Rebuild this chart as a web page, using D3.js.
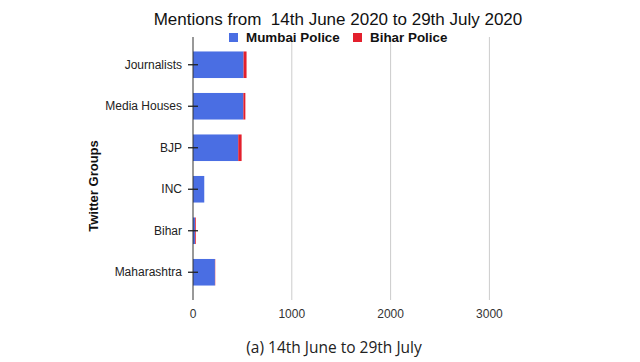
<!DOCTYPE html>
<html>
<head>
<meta charset="utf-8">
<script src="https://cdn.jsdelivr.net/npm/d3@7"></script>
<style>
  body { margin: 0; background: #fff; }
  text { font-family: Arial, "Liberation Sans", sans-serif; }
</style>
</head>
<body>
<div class="chart"></div>
<script>
var groups = ['Journalists', 'Media Houses', 'BJP', 'INC', 'Bihar', 'Maharashtra'];
var mumbai = [512, 510, 458, 114, 20, 222];
var bihar = [30, 20, 34, 0, 8, 3];
var ticks = [0, 1000, 2000, 3000];
var seriesNames = ['Mumbai Police', 'Bihar Police'];
var colors = ['#4a6ee3', '#e3202d'];

var width = 640, height = 362;
var margin = {top: 38, left: 193, right: 100, bottom: 62};

var svg = d3.select('div.chart').append('svg')
    .attr('width', width)
    .attr('height', height);

// 1000 units is about 99px
var xScale = d3.scaleLinear()
    .domain([0, 3500])
    .range([margin.left, margin.left + 3500 * 0.0988]);

var yScale = d3.scaleBand()
    .domain(groups)
    .range([44, 293])
    .paddingInner(0.36)
    .paddingOuter(0.18);

// gridlines
svg.append('g')
  .selectAll('line')
  .data(ticks.slice(1))
  .enter().append('line')
    .attr('x1', function(d) { return xScale(d); })
    .attr('x2', function(d) { return xScale(d); })
    .attr('y1', 37)
    .attr('y2', 300)
    .attr('stroke', '#cccccc')
    .attr('stroke-width', 1);

// x tick labels
svg.append('g')
  .selectAll('text')
  .data(ticks)
  .enter().append('text')
    .attr('x', function(d) { return xScale(d); })
    .attr('y', 318)
    .attr('text-anchor', 'middle')
    .attr('font-size', 12)
    .attr('fill', '#333')
    .text(function(d) { return d; });

var stacked = groups.map(function(g, i) {
  return {item: g, m: mumbai[i], b: bihar[i]};
});

// mumbai bars
svg.selectAll('rect.mumbai')
  .data(stacked)
  .enter().append('rect')
    .attr('class', 'mumbai')
    .attr('x', xScale(0))
    .attr('y', function(d) { return yScale(d.item); })
    .attr('width', function(d) { return xScale(d.m) - xScale(0); })
    .attr('height', yScale.bandwidth())
    .attr('fill', colors[0]);

// bihar bars
svg.selectAll('rect.bihar')
  .data(stacked)
  .enter().append('rect')
    .attr('class', 'bihar')
    .attr('x', function(d) { return xScale(d.m); })
    .attr('y', function(d) { return yScale(d.item); })
    .attr('width', function(d) { return xScale(d.m + d.b) - xScale(d.m); })
    .attr('height', yScale.bandwidth())
    .attr('fill', colors[1]);

// axis line
svg.append('line')
  .attr('x1', xScale(0)).attr('x2', xScale(0))
  .attr('y1', 37).attr('y2', 300)
  .attr('stroke', '#333').attr('stroke-width', 1);

// y ticks + labels
var yt = svg.append('g').selectAll('g')
  .data(groups)
  .enter().append('g')
    .attr('transform', function(d) {
      return 'translate(0,' + (yScale(d) + yScale.bandwidth() / 2) + ')';
    });
yt.append('line')
  .attr('x1', xScale(0) - 5).attr('x2', xScale(0) + 5)
  .attr('stroke', '#222').attr('stroke-width', 1.3);
yt.append('text')
  .attr('x', xScale(0) - 11)
  .attr('dy', '0.35em')
  .attr('text-anchor', 'end')
  .attr('font-size', 12)
  .attr('fill', '#222')
  .text(function(d) { return d; });

// title
svg.append('text')
  .attr('x', 338).attr('y', 25)
  .attr('text-anchor', 'middle')
  .attr('font-size', 17)
  .attr('fill', '#111')
  .style('white-space', 'pre')
  .text('Mentions from  14th June 2020 to 29th July 2020');

// legend
var legendX = [229, 353];
seriesNames.forEach(function(name, i) {
  svg.append('rect')
    .attr('x', legendX[i]).attr('y', 33)
    .attr('width', 9).attr('height', 9)
    .attr('fill', colors[i]);
  svg.append('text')
    .attr('x', legendX[i] + 17).attr('y', 42)
    .attr('font-size', 13.4)
    .attr('font-weight', 'bold')
    .attr('fill', '#111')
    .text(name);
});

// y axis title
svg.append('text')
  .attr('transform', 'translate(98,186) rotate(-90)')
  .attr('text-anchor', 'middle')
  .attr('font-size', 13)
  .attr('font-weight', 'bold')
  .attr('fill', '#111')
  .text('Twitter Groups');

// caption
svg.append('text')
  .attr('x', 334).attr('y', 353)
  .attr('text-anchor', 'middle')
  .attr('font-size', 15.5)
  .attr('fill', '#222')
  .style('font-family', '"Open Sans", "DejaVu Sans", sans-serif')
  .text('(a) 14th June to 29th July');
</script>
</body>
</html>
